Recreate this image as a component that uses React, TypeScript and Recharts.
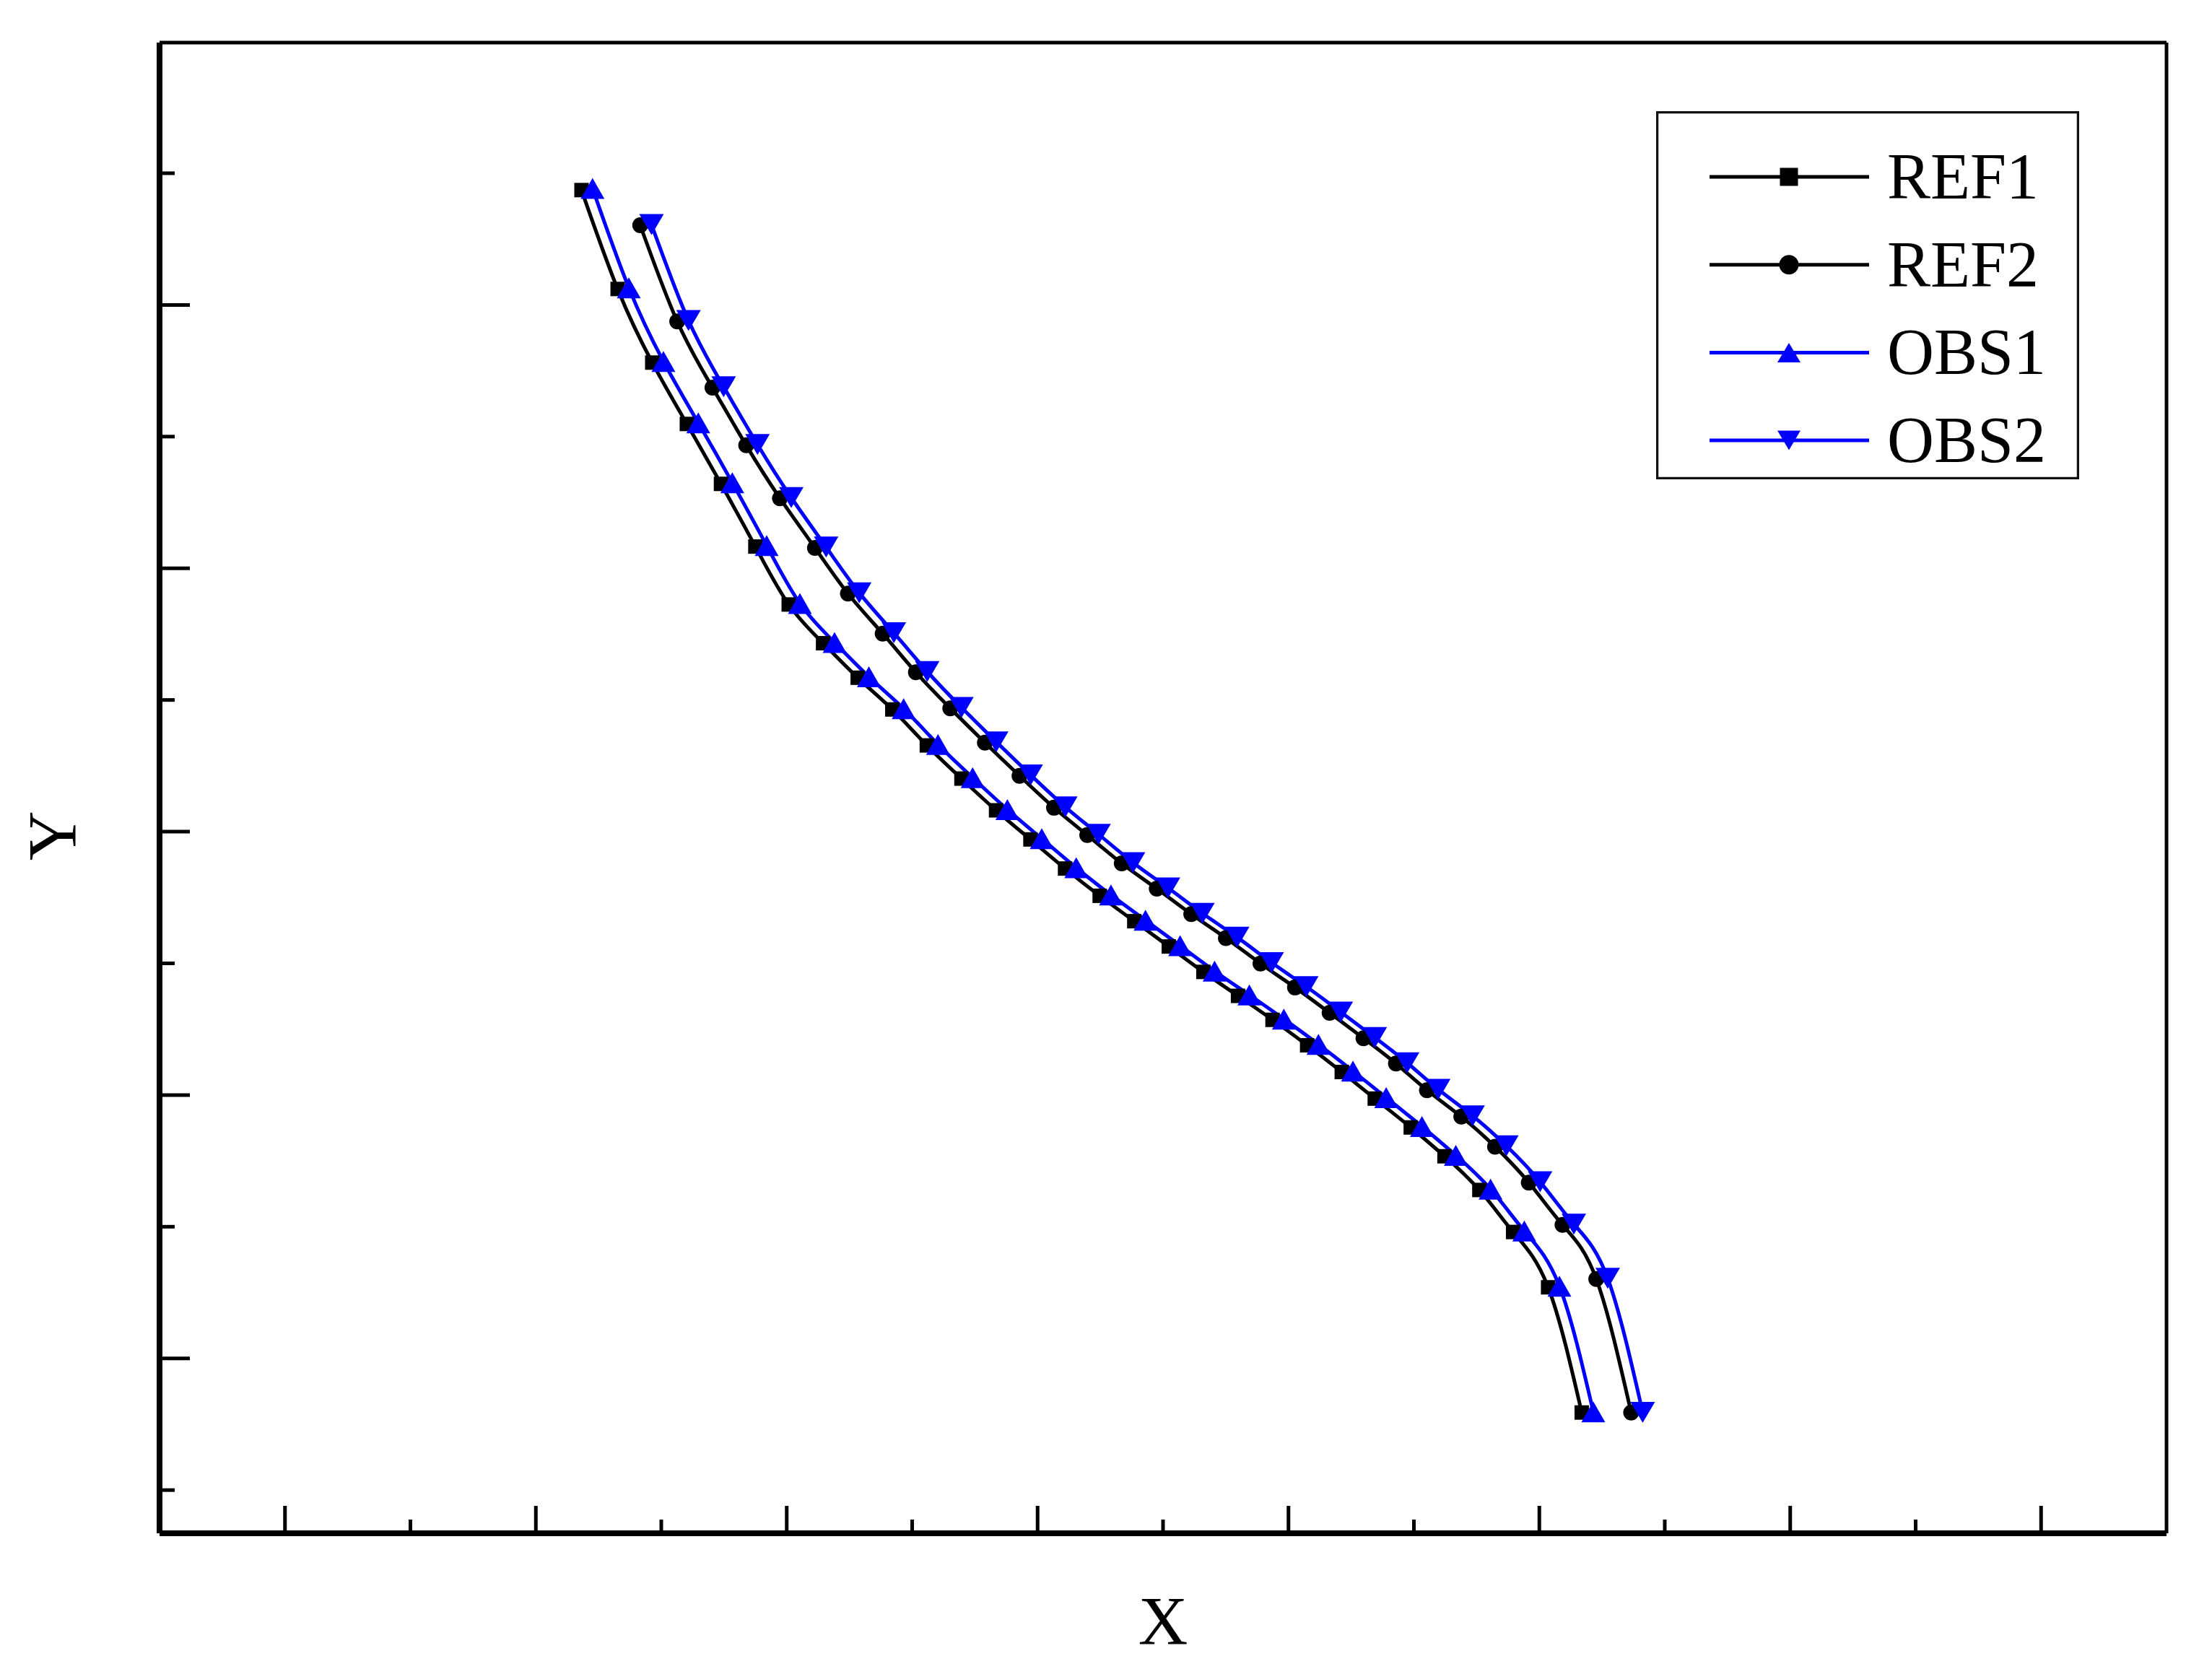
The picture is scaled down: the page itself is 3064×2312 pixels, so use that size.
import { Legend, Line, LineChart, ReferenceLine, XAxis, YAxis } from "recharts";

// values (x in minor-tick units, y in minor-tick units)
const ref1X = [3.364, 3.652, 3.928, 4.204, 4.476, 4.75, 5.016, 5.29, 5.566, 5.842, 6.117, 6.393, 6.669, 6.943, 7.219, 7.495, 7.771, 8.046, 8.322, 8.598, 8.873, 9.149, 9.425, 9.688, 9.975, 10.244, 10.522, 10.791, 11.07, 11.338];
const ref1Y = [9.872, 9.121, 8.562, 8.096, 7.641, 7.165, 6.725, 6.431, 6.169, 5.928, 5.655, 5.403, 5.162, 4.941, 4.72, 4.513, 4.32, 4.128, 3.935, 3.753, 3.571, 3.378, 3.175, 2.973, 2.754, 2.535, 2.279, 1.96, 1.54, 0.589];

const ref2X = [3.832, 4.127, 4.408, 4.677, 4.946, 5.225, 5.488, 5.765, 6.03, 6.304, 6.58, 6.856, 7.131, 7.396, 7.671, 7.95, 8.225, 8.501, 8.777, 9.052, 9.328, 9.598, 9.857, 10.104, 10.378, 10.647, 10.916, 11.185, 11.454, 11.732];
const ref2Y = [9.605, 8.875, 8.372, 7.934, 7.532, 7.155, 6.808, 6.504, 6.21, 5.937, 5.676, 5.424, 5.182, 4.974, 4.759, 4.567, 4.374, 4.192, 3.999, 3.817, 3.624, 3.431, 3.239, 3.037, 2.836, 2.608, 2.335, 2.014, 1.603, 0.589];

const obs1X = [3.452, 3.741, 4.017, 4.295, 4.566, 4.84, 5.105, 5.381, 5.655, 5.932, 6.206, 6.482, 6.759, 7.033, 7.308, 7.585, 7.86, 8.136, 8.411, 8.688, 8.963, 9.239, 9.514, 9.779, 10.064, 10.334, 10.611, 10.88, 11.16, 11.43];
const obs1Y = [9.884, 9.13, 8.571, 8.104, 7.65, 7.172, 6.733, 6.437, 6.176, 5.934, 5.662, 5.41, 5.168, 4.947, 4.726, 4.519, 4.327, 4.134, 3.941, 3.76, 3.577, 3.385, 3.182, 2.98, 2.761, 2.542, 2.286, 1.968, 1.548, 0.595];

const obs2X = [3.922, 4.217, 4.497, 4.767, 5.036, 5.314, 5.578, 5.854, 6.12, 6.393, 6.67, 6.945, 7.221, 7.486, 7.761, 8.04, 8.314, 8.591, 8.866, 9.142, 9.417, 9.688, 9.946, 10.194, 10.468, 10.737, 11.006, 11.275, 11.545, 11.824];
const obs2Y = [9.61, 8.881, 8.378, 7.94, 7.537, 7.161, 6.814, 6.51, 6.216, 5.943, 5.682, 5.43, 5.188, 4.98, 4.765, 4.573, 4.38, 4.198, 4.005, 3.823, 3.63, 3.437, 3.245, 3.043, 2.842, 2.614, 2.341, 2.02, 1.608, 0.59];

const seriesNames = ["REF1", "REF2", "OBS1", "OBS2"];
const xTicks = [1, 2, 3, 4, 5, 6, 7, 8, 9, 10, 11, 12, 13, 14, 15];
const yTicks = [0, 1, 2, 3, 4, 5, 6, 7, 8, 9, 10];
const xDomain = [0, 16];
const yDomain = [-0.328, 10.992];

const BLUE = "#0000ff";
const FONT = "'Liberation Serif', 'Times New Roman', serif";

const toPoints = (xs: number[], ys: number[]) => xs.map((x, i) => ({ x, y: ys[i] }));

const squareDot = (p: any, s = 20) => (
  <rect key={`sq-${p.index}`} x={p.cx - s / 2} y={p.cy - s / 2} width={s} height={s} fill="#000" />
);
const circleDot = (p: any, r = 11) => (
  <circle key={`ci-${p.index}`} cx={p.cx} cy={p.cy} r={r} fill="#000" />
);
const upDot = (p: any, w = 33, h = 29) => (
  <path
    key={`up-${p.index}`}
    d={`M${p.cx},${p.cy - h / 2} L${p.cx + w / 2},${p.cy + h / 2} L${p.cx - w / 2},${p.cy + h / 2} Z`}
    fill={BLUE}
  />
);
const downDot = (p: any, w = 34, h = 29) => (
  <path
    key={`dn-${p.index}`}
    d={`M${p.cx - w / 2},${p.cy - h / 2} L${p.cx + w / 2},${p.cy - h / 2} L${p.cx},${p.cy + h / 2} Z`}
    fill={BLUE}
  />
);

const XTick = ({ x, y, payload }: any) => {
  const len = payload.value % 2 === 1 ? 38 : 19;
  return <line x1={x} x2={x} y1={y} y2={y - len} stroke="#000" strokeWidth={5} />;
};

const YTick = ({ x, y, payload }: any) => {
  const len = payload.value % 2 === 1 ? 42 : 21;
  return <line x1={x} x2={x + len} y1={y} y2={y} stroke="#000" strokeWidth={5} />;
};

const YTitle = ({ viewBox }: any) => {
  const cx = viewBox.x + 45;
  const cy = viewBox.y + viewBox.height * 0.532;
  return (
    <text
      x={cx}
      y={cy}
      transform={`rotate(-90 ${cx} ${cy})`}
      textAnchor="middle"
      dominantBaseline="central"
      fontFamily={FONT}
      fontSize={95}
      fill="#000"
    >
      Y
    </text>
  );
};

const LegendBox = () => {
  const colors = ["#000", "#000", BLUE, BLUE];
  const markers = [squareDot, circleDot, upDot, downDot];
  const sizes = [[25], [13.5], [32, 27], [32, 27]];
  return (
    <svg width={586} height={510} style={{ display: "block" }}>
      <rect x={1.5} y={1.5} width={583} height={507} fill="#fff" stroke="#111" strokeWidth={3.5} />
      {seriesNames.map((name, i) => {
        const cy = 91 + i * 121.7;
        return (
          <g key={name}>
            <line x1={74} x2={295} y1={cy} y2={cy} stroke={colors[i]} strokeWidth={5} />
            {(markers[i] as any)({ cx: 184, cy, index: i }, ...sizes[i])}
            <text x={320} y={cy + 30} fontFamily={FONT} fontSize={90} fill="#000">
              {name}
            </text>
          </g>
        );
      })}
    </svg>
  );
};

export default function App() {
  return (
    <div style={{ width: 3048, height: 2296, background: "#fff" }}>
      <LineChart width={3048} height={2296} margin={{ top: 51, right: 55, bottom: 20, left: 20 }}>
        <XAxis
          type="number"
          dataKey="x"
          domain={xDomain}
          ticks={xTicks}
          interval={0}
          tickSize={0}
          tickMargin={0}
          tickLine={false}
          tick={<XTick />}
          height={160}
          allowDataOverflow
          axisLine={{ stroke: "#000", strokeWidth: 8 }}
          label={{ value: "X", position: "insideBottom", offset: 6, fontFamily: FONT, fontSize: 95, fill: "#000" }}
        />
        <YAxis
          type="number"
          dataKey="y"
          domain={yDomain}
          ticks={yTicks}
          interval={0}
          tickSize={0}
          tickMargin={0}
          tickLine={false}
          tick={<YTick />}
          width={193}
          allowDataOverflow
          axisLine={{ stroke: "#000", strokeWidth: 8 }}
          label={{ content: <YTitle /> }}
        />
        {/* top and right frame */}
        <ReferenceLine y={yDomain[1]} stroke="#000" strokeWidth={5} />
        <ReferenceLine x={xDomain[1]} stroke="#000" strokeWidth={5} />
        <Legend
          layout="vertical"
          align="center"
          verticalAlign="middle"
          content={<LegendBox />}
          wrapperStyle={{ left: 2286, top: 146, width: 586, height: 510 }}
        />
        <Line
          data={toPoints(ref1X, ref1Y)}
          dataKey="y"
          name="REF1"
          type="natural"
          stroke="#000"
          strokeWidth={5}
          dot={(p: any) => squareDot(p)}
          activeDot={false}
          isAnimationActive={false}
        />
        <Line
          data={toPoints(ref2X, ref2Y)}
          dataKey="y"
          name="REF2"
          type="natural"
          stroke="#000"
          strokeWidth={5}
          dot={(p: any) => circleDot(p)}
          activeDot={false}
          isAnimationActive={false}
        />
        <Line
          data={toPoints(obs1X, obs1Y)}
          dataKey="y"
          name="OBS1"
          type="natural"
          stroke={BLUE}
          strokeWidth={5}
          dot={(p: any) => upDot(p)}
          activeDot={false}
          isAnimationActive={false}
        />
        <Line
          data={toPoints(obs2X, obs2Y)}
          dataKey="y"
          name="OBS2"
          type="natural"
          stroke={BLUE}
          strokeWidth={5}
          dot={(p: any) => downDot(p)}
          activeDot={false}
          isAnimationActive={false}
        />
      </LineChart>
    </div>
  );
}
